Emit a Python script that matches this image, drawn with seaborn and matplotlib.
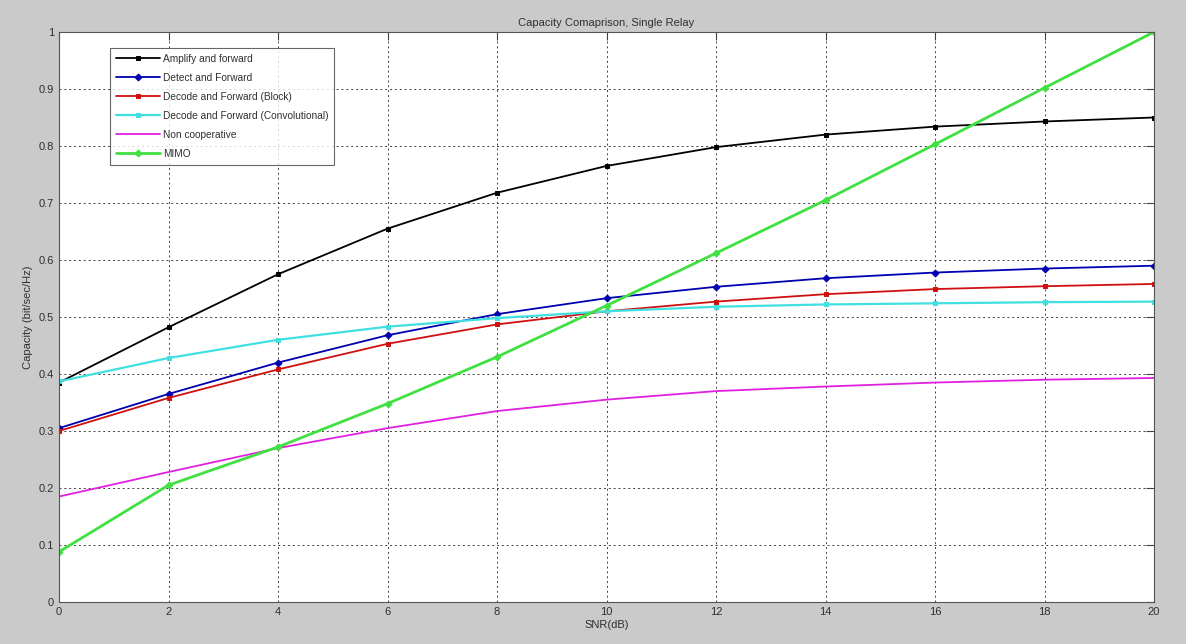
import matplotlib
matplotlib.use("Agg")
import matplotlib.pyplot as plt
import seaborn as sns

snr = [0, 2, 4, 6, 8, 10, 12, 14, 16, 18, 20]

amplify = [0.385, 0.482, 0.575, 0.655, 0.718, 0.765, 0.798, 0.820, 0.834, 0.843, 0.850]
detect = [0.305, 0.365, 0.420, 0.468, 0.505, 0.533, 0.553, 0.568, 0.578, 0.585, 0.590]
decode_block = [0.300, 0.358, 0.408, 0.453, 0.487, 0.510, 0.527, 0.540, 0.549, 0.554, 0.558]
decode_conv = [0.387, 0.428, 0.460, 0.483, 0.498, 0.510, 0.518, 0.522, 0.524, 0.526, 0.527]
non_coop = [0.185, 0.228, 0.270, 0.305, 0.335, 0.355, 0.370, 0.378, 0.385, 0.390, 0.393]
mimo = [0.088, 0.205, 0.272, 0.348, 0.430, 0.520, 0.612, 0.705, 0.803, 0.902, 1.000]

names = ["Amplify and forward", "Detect and Forward", "Decode and Forward (Block)",
         "Decode and Forward (Convolutional)", "Non cooperative", "MIMO"]

sns.set_style("white")
plt.rcParams['font.family'] = ['Liberation Sans', 'DejaVu Sans']

fig = plt.figure(figsize=(11.86, 6.44), dpi=100, facecolor="#cacaca")
ax = fig.add_axes([59/1186, 42/644, (1154-59)/1186, (602-32)/644])
ax.set_facecolor("white")

# color, marker, markersize, linewidth
styles = [("black", "s", 2.5, 1.3),
          ("#0000b0", "D", 3.5, 1.3),
          ("#d01010", "s", 2.5, 1.3),
          ("#40e0e0", "s", 2.5, 1.6),
          ("#e020e0", None, 0, 1.3),
          ("#40e040", "D", 3.5, 2.0)]
series = [amplify, detect, decode_block, decode_conv, non_coop, mimo]

for vals, name, (c, m, ms, lw) in zip(series, names, styles):
    sns.lineplot(x=snr, y=vals, ax=ax, color=c, marker=m, markersize=ms,
                 markeredgecolor=c, linewidth=lw, label=name)

ax.set_xlim(0, 20)
ax.set_ylim(0, 1)
ax.set_xticks(snr)
ax.set_yticks([0, 0.1, 0.2, 0.3, 0.4, 0.5, 0.6, 0.7, 0.8, 0.9, 1])
ax.set_yticklabels(["0", "0.1", "0.2", "0.3", "0.4", "0.5", "0.6", "0.7", "0.8", "0.9", "1"])
ax.grid(True, color="#404040", linestyle=(0, (2, 3)), linewidth=0.7)
ax.tick_params(direction="in", top=True, right=True, length=6, labelsize=8,
               colors="#404040", labelcolor="#303030")
for s in ax.spines.values():
    s.set_color("#555555")
    s.set_linewidth(0.8)

ax.set_title("Capacity Comaprison, Single Relay", fontsize=8, color="#303030", pad=4)
ax.set_xlabel("SNR(dB)", fontsize=8, color="#303030", labelpad=2)
ax.set_ylabel("Capacity (bit/sec/Hz)", fontsize=8, color="#303030", labelpad=4)

leg = ax.legend(loc="upper left", bbox_to_anchor=(0.0466, 0.972), borderaxespad=0,
                fontsize=7.3, frameon=True, fancybox=False, edgecolor="#404040",
                handlelength=4.3, borderpad=0.6, labelspacing=0.88, handletextpad=0.3)
leg.get_frame().set_linewidth(0.8)
for t in leg.get_texts():
    t.set_color("#303030")

fig.savefig("out.png", dpi=100, facecolor=fig.get_facecolor())
